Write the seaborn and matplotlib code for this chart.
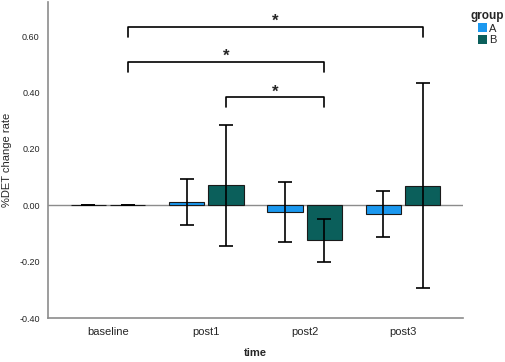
import pandas as pd
import numpy as np
import seaborn as sns
import matplotlib.pyplot as plt
from matplotlib.ticker import FormatStrFormatter

sns.set_theme(style='white')
plt.rcParams['font.family'] = ['Liberation Sans', 'DejaVu Sans']

# values
times = ['baseline', 'post1', 'post2', 'post3']
groups = ['A', 'B']
mean_a = [0.0, 0.012, -0.024, -0.031]
mean_b = [0.0, 0.071, -0.124, 0.070]
err_a = [0.0, 0.082, 0.107, 0.083]
err_b = [0.0, 0.214, 0.077, 0.364]

# significance brackets: (time from, time to, height of bar)
brackets = [('baseline', 'post3', 0.632), ('baseline', 'post2', 0.508), ('post1', 'post2', 0.383)]

colors = {'A': '#1b98ef', 'B': '#0b5f5b'}

df = pd.DataFrame({
    'time': times * 2,
    'group': ['A'] * 4 + ['B'] * 4,
    'value': mean_a + mean_b,
})
errs = {'A': err_a, 'B': err_b}

fig = plt.figure(figsize=(5.05, 3.62), dpi=100)
ax = fig.add_axes([0.095, 0.121, 0.822, 0.873])

sns.barplot(data=df, x='time', y='value', hue='group', order=times, hue_order=groups,
            palette=colors, saturation=1, errorbar=None, width=0.8, gap=0.1,
            edgecolor='#1a1a1a', linewidth=0.8, ax=ax)

ax.axhline(0, color='#8c8c8c', lw=1, zorder=0.5)

# error bars at the centres of the bars seaborn drew
centres = {}
for g, cont in zip(groups, ax.containers):
    xs = [p.get_x() + p.get_width() / 2 for p in cont.patches]
    centres[g] = xs
    vals = mean_a if g == 'A' else mean_b
    ax.errorbar(xs, vals, yerr=errs[g], fmt='none', ecolor='black',
                elinewidth=1.2, capsize=5, capthick=1.2, zorder=5)

# brackets between the B bars
for t1, t2, h in brackets:
    x1 = centres['B'][times.index(t1)]
    x2 = centres['B'][times.index(t2)]
    ax.plot([x1, x1, x2, x2], [h - 0.036, h, h, h - 0.036], color='black', lw=1.2)
    ax.text((x1 + x2) / 2, h - 0.008, '*', ha='center', va='bottom',
            fontsize=12, fontweight='bold')

ax.set_xlim(-0.61, 3.61)
ax.set_ylim(-0.4, 0.72)
ax.set_yticks([-0.4, -0.2, 0.0, 0.2, 0.4, 0.6])
ax.yaxis.set_major_formatter(FormatStrFormatter('%.2f'))
ax.tick_params(axis='y', labelsize=6.5, length=0, pad=6)
ax.tick_params(axis='x', labelsize=8, length=0, pad=6)

ax.set_xlabel('time', fontsize=8, fontweight='bold', labelpad=8)
ax.set_ylabel('%DET change rate', fontsize=8, labelpad=5)

for s in ['top', 'right']:
    ax.spines[s].set_visible(False)
for s in ['left', 'bottom']:
    ax.spines[s].set_color('#8c8c8c')
    ax.spines[s].set_linewidth(1.2)

leg = ax.legend(title='group', loc='upper left', bbox_to_anchor=(1.0, 1.0),
                frameon=False, fontsize=8, title_fontsize=8.5,
                handlelength=0.8, handleheight=0.9, handletextpad=0.2,
                labelspacing=0.1, borderaxespad=0.3)
leg.get_title().set_fontweight('bold')
for h in leg.legend_handles:
    h.set_edgecolor('none')

fig.savefig('out.png', dpi=100)
